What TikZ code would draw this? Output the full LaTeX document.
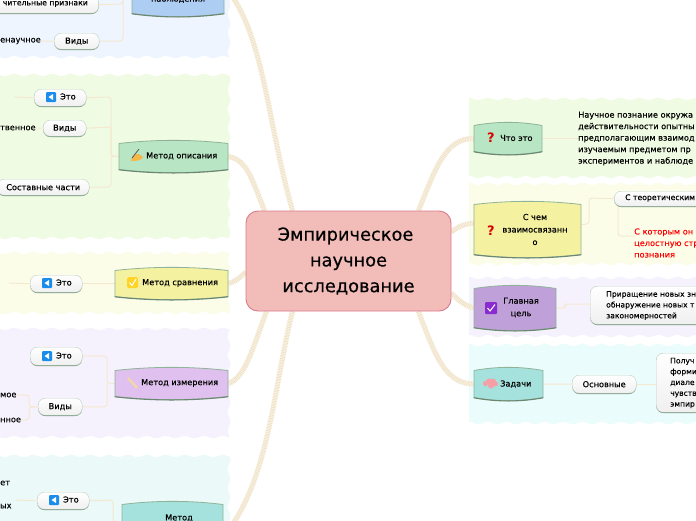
\documentclass[tikz,border=0pt]{standalone}
\usepackage{fontspec}
\setmainfont{DejaVu Sans}
\newfontfamily\medfont[FakeBold=0.4]{DejaVu Sans}
\newfontfamily\txtfont[FakeBold=0.12]{DejaVu Sans}
\newfontfamily\rootfont[FakeBold=0.5]{DejaVu Sans}
\usetikzlibrary{shadows,calc}
\definecolor{linkc}{HTML}{F5E8D0}
\definecolor{ropec}{HTML}{F0E2C6}
\definecolor{ropeb}{HTML}{FBF6EC}
\definecolor{topicb}{HTML}{8FB398}
\definecolor{rootc}{HTML}{F2BDB9}
\definecolor{rootd}{HTML}{D6A5A2}
\definecolor{pblue}{HTML}{EEF5FF}
\definecolor{pgreen}{HTML}{F0FBE3}
\definecolor{pyellow}{HTML}{FBFDE9}
\definecolor{ppurple}{HTML}{F6F2FD}
\definecolor{pteal}{HTML}{EBF9F8}
\definecolor{pteal2}{HTML}{EBFCFC}
\definecolor{tblue}{HTML}{AECDF3}
\definecolor{tgreen}{HTML}{B8E6C4}
\definecolor{tyellow}{HTML}{F4F2A0}
\definecolor{tviolet}{HTML}{DFC0EE}
\definecolor{tviolet2}{HTML}{C0A0D8}
\definecolor{tteal}{HTML}{A5E2DE}
\definecolor{iconblue}{HTML}{1A8CEC}
\definecolor{iconpurple}{HTML}{8A2BCF}
\definecolor{iconyellow}{HTML}{FFD426}
\definecolor{ruler}{HTML}{F2D8A8}
\definecolor{penc}{HTML}{F4B84A}
\definecolor{brainc}{HTML}{F4A0A4}
\pgfdeclarelayer{panel}\pgfdeclarelayer{link}
\pgfsetlayers{panel,link,main}
\pgfdeclareverticalshading{rootshade}{100bp}{
  color(0bp)=(rootd); color(12bp)=(rootc); color(88bp)=(rootc); color(100bp)=(rootd)}
\tikzset{
  pill/.style={rounded corners=7pt,draw=topicb!60!white,top color=white,bottom color=white!88!gray,
    general shadow={shadow yshift=-0.8pt,fill=topicb!80!black},
    font=\medfont\fontsize{8.2}{9}\selectfont,text=black,inner sep=0pt,anchor=north west},
  plain/.style={font=\txtfont\fontsize{8.2}{11.5}\selectfont,inner sep=0pt,align=left,text=black},
  plainb/.style={font=\txtfont\fontsize{7.6}{10.8}\selectfont,inner sep=0pt,align=left,text=black},
  head/.style={font=\medfont\fontsize{8.2}{12.5}\selectfont,inner sep=0pt,align=center,text=black},
  headn/.style={font=\medfont\fontsize{7.7}{12.5}\selectfont,inner sep=0pt,align=center,text=black},
  lnk/.style={draw=linkc,line width=1pt,rounded corners=3pt},
  rope/.style={preaction={draw=ropeb,line width=5pt},draw=ropec,line width=5pt,dash pattern=on 0.8pt off 0.8pt},
}
% colour, x1, y1, x2, y2: a panel with wavy edges
\newcommand{\wavepanel}[5]{%
  \fill[#1] plot[domain=#2:#4,samples=120,smooth] (\x,{#3+1.2*sin(\x*19)})
    -- plot[domain=#3:#5,samples=90,smooth] ({#4+1.2*sin(\x*19)},\x)
    -- plot[domain=#4:#2,samples=120,smooth] (\x,{#5+1.2*sin(\x*19)})
    -- cycle;
}
% name, x1, y1, x2, y2, colour
\newcommand{\topicnode}[6]{%
  \pgfmathsetmacro{\tka}{#2+(#4-#2)/3}\pgfmathsetmacro{\tkb}{#4-(#4-#2)/3}%
  \pgfmathsetmacro{\tw}{#4-#2}\pgfmathsetmacro{\th}{#5-#3}%
  \fill[#6] (#2,#3+3.5) .. controls (\tka,#3-0.7) and (\tkb,#3-0.7) .. (#4,#3+3.5)
    -- (#4,#5-3.5) .. controls (\tkb,#5+0.7) and (\tka,#5+0.7) .. (#2,#5-3.5) -- cycle;
  \draw[topicb,line width=0.8pt,line join=round] (#2,#3+3.5) .. controls (\tka,#3-0.7) and (\tkb,#3-0.7) .. (#4,#3+3.5)
    -- (#4,#5-3.5) .. controls (\tkb,#5+0.7) and (\tka,#5+0.7) .. (#2,#5-3.5) -- cycle;
  \draw[topicb!75!black,line width=1.1pt,line cap=round] (#4,#5-3.2) .. controls (\tkb,#5+1) and (\tka,#5+1) .. (#2,#5-3.2);
  \node[inner sep=0pt,minimum width=\tw pt,minimum height=\th pt] (#1) at ({(#2+#4)/2},{(#3+#5)/2}) {};
}
% name, x1, y1, x2, y2, text
\newcommand{\pillnode}[6]{%
  \pgfmathsetmacro{\tw}{#4-#2}\pgfmathsetmacro{\th}{#5-#3}%
  \node[pill,minimum width=\tw pt,minimum height=\th pt] (#1) at (#2,#3) {#6};
}
\newcommand{\thisicon}[2]{%
  \fill[iconblue,rounded corners=1pt] (#1-5,#2-5) rectangle (#1+5,#2+5);
  \fill[white] (#1+2,#2-3) -- (#1+2,#2+3) -- (#1-2.5,#2) -- cycle;
}
\begin{document}
\begin{tikzpicture}[x=1pt,y=-1pt]
\useasboundingbox (0,0) rectangle (696,520);
\clip (0,0) rectangle (696,520);
% panels
\begin{pgfonlayer}{panel}
\fill[white] (0,0) rectangle (696,520);
\wavepanel{pblue}{-12}{-12}{229}{57}
\wavepanel{pgreen}{-12}{75}{229}{238}
\wavepanel{pyellow}{-12}{253}{229}{313}
\wavepanel{ppurple}{-12}{329}{229}{437}
\wavepanel{pteal}{-12}{456}{229}{532}
\wavepanel{pgreen}{469}{99}{708}{177}
\wavepanel{pyellow}{469}{184}{708}{264}
\wavepanel{ppurple}{469}{278}{708}{336}
\wavepanel{pteal2}{469}{345}{708}{423}
\end{pgfonlayer}
% root
\node[inner sep=0pt,minimum width=205pt,minimum height=100pt,rounded corners=12pt,draw={rgb,255:red,217;green,122;blue,141},line width=0.9pt,shading=rootshade,
  font=\rootfont\fontsize{17.8}{25.8}\selectfont,align=center] (root) at (348.5,261)
  {Эмпирическое\hspace*{6pt}\\научное\hspace*{5pt}\\исследование};
% topics
\topicnode{tobs}{132}{-30}{224}{17}{tblue}
\topicnode{tdesc}{119}{140}{228}{173}{tgreen}
\topicnode{tcomp}{115}{267}{228}{300}{tyellow}
\topicnode{tmeas}{115}{367}{228}{400}{tviolet}
\topicnode{texp}{122}{501}{223}{560}{tteal}
\topicnode{twhat}{474}{122}{542}{155}{tgreen}
\topicnode{twith}{474}{201}{581}{258}{tyellow}
\topicnode{tgoal}{474}{285}{556}{331}{tviolet2}
\topicnode{ttask}{474}{367}{543}{401}{tteal}
% topic texts
\node[head] (xobs) at (178,-1) {наблюдения};
\node[head,anchor=west] (xdesc) at (146,156) {Метод описания};
\node[head,anchor=west] (xcomp) at (142,283) {Метод сравнения};
\node[head,anchor=west] (xmeas) at (141,383) {Метод измерения};
\node[head] (xexp) at (179,518) {Метод};
\node[head,anchor=west] (xwhat) at (500,138) {Что это};
\node[head] (xwith) at (535,229.5) {С чем\\взаимосвязанн\\о};
\node[head] (xgoal) at (521,307.5) {Главная\\цель};
\node[head,anchor=west] (xtask) at (500,384) {Задачи};
% icons
\fill[penc] (131,160) .. controls (133,155) and (136,153) .. (139,154) -- (143,157) .. controls (142,160) and (138,161) .. (131,161) -- cycle;
\draw[black!70,line width=0.7pt] (132,158) -- (139,149);
\fill[iconyellow,rounded corners=1.5pt] (127,277) rectangle (138,288);
\draw[white,line width=1pt] (129.5,282.5) -- (132,285.5) -- (136,279);
\draw[ruler,line width=2.4pt] (128,378) -- (137,388);
\node[font=\bfseries\fontsize{13}{13}\selectfont,text=red!85!black,inner sep=0pt] (q1) at (491,138) {?};
\node[font=\bfseries\fontsize{13}{13}\selectfont,text=red!85!black,inner sep=0pt] (q2) at (491,230.5) {?};
\fill[iconpurple,rounded corners=1pt] (485,302) rectangle (497,314);
\draw[white,line width=1pt] (487.5,308) -- (490,311) -- (495,304.5);
\fill[brainc] (485.5,383.5) circle (2.6) (489,381.5) circle (3) (493,381.5) circle (3) (495.5,384) circle (2.5) (491,385.5) circle (3);
% child nodes left
\pillnode{pfeat}{-20}{-4}{98.5}{13}{}
\node[headn,anchor=east] (xfeat) at (88,4) {чительные признаки};
\pillnode{pk1}{54}{33}{99}{49}{Виды}
\node[plain,anchor=west] (l1) at (0,41) {енаучное};
\pillnode{pa1}{34}{89}{86}{106}{}
\thisicon{51}{97}
\node[head,anchor=west] (xa1) at (60,96.5) {Это};
\pillnode{pk2}{43}{120}{86}{136}{Виды}
\node[plain,anchor=west] (l2) at (0,128) {твенное};
\pillnode{pp}{-3}{179}{89}{195}{Составные части}
\pillnode{pa2}{30}{275}{82}{292}{}
\thisicon{47}{283}
\node[head,anchor=west] (xa2) at (56,282.5) {Это};
\pillnode{pa3}{30}{347}{82}{365}{}
\thisicon{47}{356}
\node[head,anchor=west] (xa3) at (56,355.5) {Это};
\pillnode{pk3}{38}{398}{82}{415}{Виды}
\node[plain,anchor=west] (l3) at (0,395) {мое};
\node[plain,anchor=west] (l4) at (0,420) {нное};
\pillnode{pa4}{37}{492}{89}{509}{}
\thisicon{54}{500}
\node[head,anchor=west] (xa4) at (63,499.5) {Это};
\node[plain,anchor=west] (l5) at (0,483) {ет};
\node[plain,anchor=west] (l6) at (0,506) {ых};
% child nodes right
\node[plain,anchor=west] (r1) at (578,138.5) {Научное познание окружа\\действительности опытны\\предполагающим взаимод\\изучаемым предметом пр\\экспериментов и наблюде};
\pillnode{pth}{614}{191}{720}{206}{}
\node[headn,anchor=west] (xth) at (625,198) {С теоретическим};
\node[plain,anchor=west,text=red] (r2) at (634,243) {С которым он\\целостную стр\\познания};
\pillnode{pg}{590}{286}{730}{324}{}
\node[plainb,anchor=west] (r3) at (606,305.5) {Приращение новых зн\\обнаружение новых т\\закономерностей};
\pillnode{pb}{572}{375}{636}{393}{Основные}
\pillnode{pl}{656}{353}{730}{412}{}
\node[plainb,anchor=west] (r4) at (670,383) {Получ\\форми\\диале\\чувств\\эмпир};
% coordinates for free ends
\coordinate (e1) at (14,97);
\coordinate (e2) at (9,283);
\coordinate (e3) at (16,500);
% links
\begin{pgfonlayer}{link}
\draw[lnk] (pfeat.east) -- (123,4) -- (123,-5) -- (tobs.west);
\draw[lnk] (pk1.east) -- (123,41) -- (123,-5);
\draw[lnk] (pk1.west) -- (l1.east);
\draw[lnk] (pa1.east) -- (111,97) -- (111,156) -- (tdesc.west);
\draw[lnk] (pk2.east) -- (111,127) -- (111,156);
\draw[lnk] (pp.east) -- (111,187) -- (111,156) -- (tdesc.west);
\draw[lnk] (pa1.west) -- (e1);
\draw[lnk] (pk2.west) -- (l2.east);
\draw[lnk] (pa2.east) -- (tcomp.west);
\draw[lnk] (pa2.west) -- (e2);
\draw[lnk] (pa3.east) -- (107,356) -- (107,383) -- (tmeas.west);
\draw[lnk] (pk3.east) -- (107,407) -- (107,383);
\draw[lnk] (pk3.west) -- (29,407) -- (29,395) -- (l3.east);
\draw[lnk] (pk3.west) -- (29,407) -- (29,420) -- (l4.east);
\draw[lnk] (pa4.east) -- (113,500) -- (113,530);
\draw[lnk] (pa4.west) -- (e3);
\draw[lnk] (twhat.east) -- (r1.west);
\draw[lnk] (twith.east) ++(0,-5) -- (589,224) -- (589,198) -- (pth.west);
\draw[lnk] (618,206) -- (618,236) -- (r2.west |- 0,236);
\draw[lnk] (tgoal.east) -- (565,308) -- (565,304) -- (pg.west |- 0,304);
\draw[lnk] (ttask.east) -- (pb.west);
\draw[lnk] (pb.east) -- (pl.west |- pb.east);
% main branches
\draw[rope] ([xshift=-84pt]root.north) .. controls (251,177) and (247,160) .. (tdesc.east);
\draw[rope] ([xshift=-56pt]root.north) .. controls (268,125) and (265,45) .. (232,-4);
\draw[rope] (root.west |- 0,272) .. controls (240,278) and (235,282) .. (tcomp.east);
\draw[rope] ([xshift=-82pt]root.south) .. controls (252,350) and (245,378) .. (tmeas.east);
\draw[rope] ([xshift=-56pt]root.south) .. controls (275,380) and (270,470) .. (232,525);
\draw[rope] ([xshift=70pt]root.north) .. controls (435,170) and (445,138) .. (twhat.west);
\draw[rope] (root.east |- 0,232) .. controls (458,226) and (465,224) .. (474,223);
\draw[rope] (root.east |- 0,293) .. controls (458,300) and (465,306) .. (tgoal.west);
\draw[rope] ([xshift=70pt]root.south) .. controls (435,355) and (445,384) .. (ttask.west);
\end{pgfonlayer}
\end{tikzpicture}
\end{document}
